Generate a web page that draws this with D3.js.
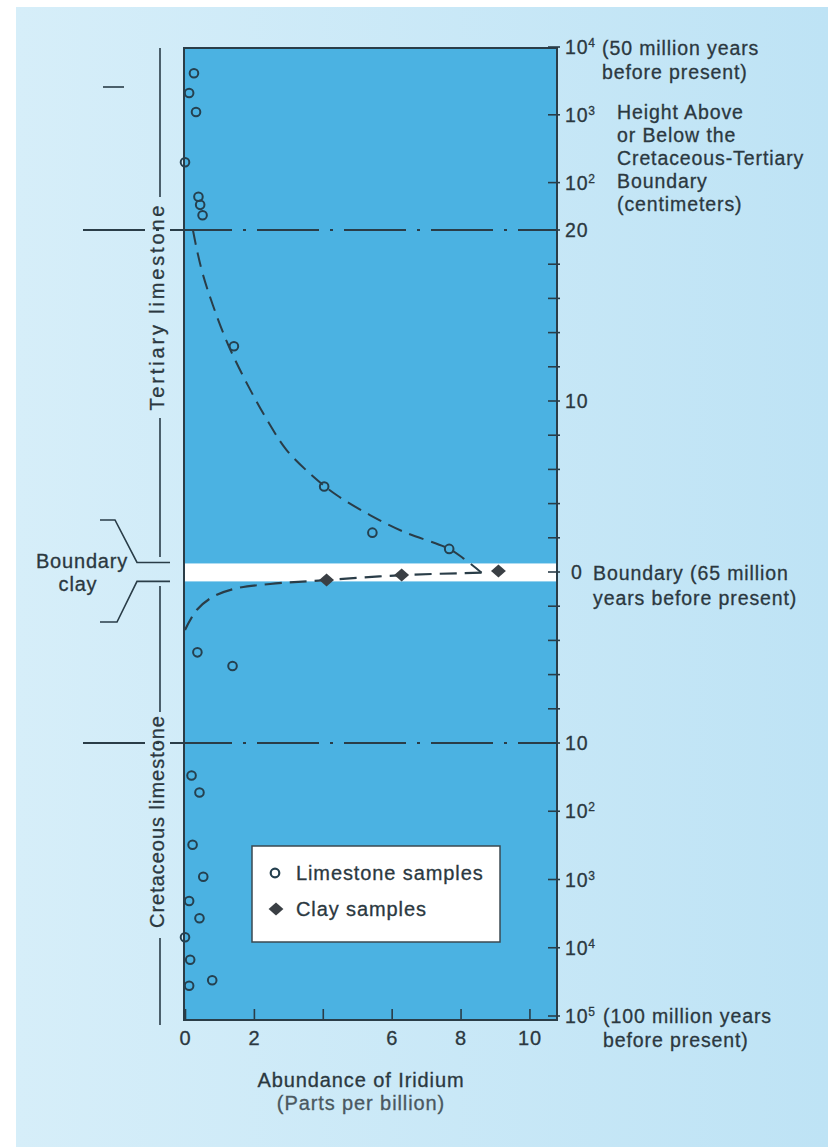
<!DOCTYPE html>
<html>
<head>
<meta charset="utf-8">
<script src="https://cdn.jsdelivr.net/npm/d3@7/dist/d3.min.js"></script>
<style>
  html, body { margin: 0; padding: 0; background: #ffffff; }
  svg { display: block; }
  text { font-family: "Liberation Sans", Arial, Helvetica, sans-serif; fill: #2b3840; stroke: #2b3840; stroke-width: 0.3px; }
</style>
</head>
<body>
<svg id="chart" width="839" height="1147"></svg>
<script>
// Iridium abundance (parts per billion) versus height above (+) or below (-)
// the Cretaceous-Tertiary boundary (centimeters).
const limestoneIridium = [0.26, 0.12, 0.32, 0.0, 0.39, 0.44, 0.51, 1.42, 4.04, 5.44, 7.67,
                          0.36, 1.38, 0.19, 0.42, 0.22, 0.53, 0.12, 0.42, 0.0, 0.15, 0.12, 0.79];
const limestoneHeight  = [4100, 2100, 1100, 200, 62, 47, 33, 13.2, 5.0, 2.3, 1.35,
                          -4.7, -5.5, -30, -53, -310, -910, -2070, -3700, -7000, -15000, -36000, -30000];

const clayIridium = [4.11, 6.29, 9.10];
const clayHeight  = [-0.47, -0.18, 0.06];

// Fitted profile: falling branch above the boundary, then the branch below it
const profileAboveIridium = [0.23, 0.35, 0.52, 0.81, 1.25, 1.83, 2.47, 2.95, 3.73, 4.40, 5.37, 6.34, 7.67, 8.08, 8.61];
const profileAboveHeight  = [20, 18.8, 17.4, 15.6, 13.3, 10.9, 8.6, 7.13, 5.57, 4.5, 3.33, 2.36, 1.35, 0.80, -0.04];
const profileBelowIridium = [8.61, 6.33, 4.11, 2.47, 1.50, 0.82, 0.34, 0.0];
const profileBelowHeight  = [-0.04, -0.18, -0.47, -0.70, -0.95, -1.44, -2.22, -3.39];

// Boundary clay layer (cm)
const clayLayer = [0.5, -0.55];

// Axis ticks
const xTickValues = [0, 2, 4, 6, 8, 10];
const xTickLabels = ["0", "2", "", "6", "8", "10"];
const heightTickValues = [1e4, 1e3, 1e2, 20, 18, 16, 14, 12, 10, 8, 6, 4, 2, 0,
                          -2, -4, -6, -8, -10, -1e2, -1e3, -1e4, -1e5];
const heightLabelValues = [1e4, 1e3, 1e2, 20, 10, 0, -10, -1e2, -1e3, -1e4, -1e5];
const heightLabelBase   = ["10", "10", "10", "20", "10", "0", "10", "10", "10", "10", "10"];
const heightLabelExp    = ["4", "3", "2", "", "", "", "", "2", "3", "4", "5"];

const svg = d3.select("#chart");
const W = 839, H = 1147;

// Panel background
const defs = svg.append("defs");
const grad = defs.append("linearGradient").attr("id", "panelGrad")
  .attr("x1", "0%").attr("x2", "100%").attr("y1", "0%").attr("y2", "0%");
grad.append("stop").attr("offset", "0%").attr("stop-color", "#d6eef9");
grad.append("stop").attr("offset", "100%").attr("stop-color", "#bee3f5");
svg.append("rect").attr("x", 16).attr("y", 7).attr("width", 812).attr("height", H - 7)
  .attr("fill", "url(#panelGrad)");

// Scales
const x = d3.scaleLinear().domain([0, 10.8]).range([185, 557]);
const yUpperLog = d3.scaleLog().domain([20, 1e4]).range([230, 47]);
const yLinear = d3.scaleLinear().domain([-10, 20]).range([743, 230]);
const yLowerLog = d3.scaleLog().domain([10, 1e5]).range([743, 1016]);
function y(h) {
  if (h > 20) return yUpperLog(h);
  if (h < -10) return yLowerLog(-h);
  return yLinear(h);
}

const plotLeft = 184, plotRight = 557, plotTop = 48, plotBottom = 1020;
const ink = "#2a3d48";

// Plot area
svg.append("rect").attr("x", plotLeft).attr("y", plotTop)
  .attr("width", plotRight - plotLeft).attr("height", plotBottom - plotTop)
  .attr("fill", "#4bb2e2");

// Boundary clay band
svg.append("rect").attr("x", plotLeft).attr("y", y(clayLayer[0]))
  .attr("width", plotRight - plotLeft).attr("height", y(clayLayer[1]) - y(clayLayer[0]))
  .attr("fill", "#ffffff");

svg.append("rect").attr("x", plotLeft).attr("y", plotTop)
  .attr("width", plotRight - plotLeft).attr("height", plotBottom - plotTop)
  .attr("fill", "none").attr("stroke", ink).attr("stroke-width", 2);

// Dash-dot limits of the linear section
[20, -10].forEach(h => {
  svg.append("line").attr("x1", 83).attr("x2", plotRight)
    .attr("y1", y(h)).attr("y2", y(h))
    .attr("stroke", ink).attr("stroke-width", 1.8)
    .attr("stroke-dasharray", "62 11 3 11");
});

// Bottom axis (ticks point inward)
const xAxis = d3.axisBottom(x)
  .tickValues(xTickValues)
  .tickFormat((d, i) => xTickLabels[i])
  .tickSizeInner(-11).tickSizeOuter(0).tickPadding(11);
const gx = svg.append("g").attr("transform", `translate(0,${plotBottom})`).call(xAxis);
gx.select(".domain").remove();
gx.selectAll("line").attr("stroke", ink).attr("stroke-width", 1.6);
gx.selectAll("text").attr("font-size", 20).attr("letter-spacing", "0.8px")
  .attr("fill", "#2b3840").attr("font-family", "Liberation Sans, Arial, sans-serif");

// Right axis ticks
svg.append("g").selectAll("line").data(heightTickValues).join("line")
  .attr("x1", plotRight - 9).attr("x2", plotRight + 3)
  .attr("y1", d => y(d)).attr("y2", d => y(d))
  .attr("stroke", ink).attr("stroke-width", 1.6);

// Right axis labels with exponents
const labelG = svg.append("g");
heightLabelValues.forEach((v, i) => {
  const t = labelG.append("text")
    .attr("x", v === 0 ? 571 : 565)
    .attr("y", y(v) + 7)
    .attr("font-size", 19.5).attr("letter-spacing", "0.8px");
  t.append("tspan").text(heightLabelBase[i]);
  if (heightLabelExp[i]) {
    t.append("tspan").attr("font-size", 12).attr("dy", -7).text(heightLabelExp[i]);
  }
});

// Notes beside the axis
function note(lines, xPos, yStart, step, size) {
  const t = svg.append("text").attr("font-size", size || 19.5).attr("letter-spacing", "0.9px");
  lines.forEach((s, i) => t.append("tspan").attr("x", xPos).attr("y", yStart + i * step).text(s));
  return t;
}
note(["(50 million years", "before present)"], 602, y(1e4) + 8, 23.5);
note(["Height Above", "or Below the", "Cretaceous-Tertiary", "Boundary", "(centimeters)"], 617, 119, 23);
note(["Boundary (65 million", "years before present)"], 593, y(0) + 8, 24.5);
note(["(100 million years", "before present)"], 603, y(-1e5) + 7, 24);

// x-axis title
svg.append("text").attr("x", 361).attr("y", 1087).attr("text-anchor", "middle")
  .attr("font-size", 20).attr("letter-spacing", "0.9px").text("Abundance of Iridium");
svg.append("text").attr("x", 361).attr("y", 1110).attr("text-anchor", "middle")
  .attr("font-size", 20).attr("letter-spacing", "0.9px")
  .style("fill", "#4a5860").style("stroke", "#4a5860")
  .text("(Parts per billion)");

// Left-hand stratigraphy labels
const leftLines = [[48, 197], [418, 557], [586, 712], [938, 1025]];
leftLines.forEach(([a, b]) => {
  svg.append("line").attr("x1", 160).attr("x2", 160).attr("y1", a).attr("y2", b)
    .attr("stroke", ink).attr("stroke-width", 1.6);
});
svg.append("line").attr("x1", 103).attr("x2", 124).attr("y1", 87).attr("y2", 87)
  .attr("stroke", ink).attr("stroke-width", 1.6);

svg.append("text").attr("transform", "translate(164,308) rotate(-90)")
  .attr("text-anchor", "middle").attr("font-size", 20)
  .attr("textLength", 205).attr("lengthAdjust", "spacing")
  .text("Tertiary limestone");
svg.append("text").attr("transform", "translate(164,822) rotate(-90)")
  .attr("text-anchor", "middle").attr("font-size", 20)
  .attr("textLength", 212).attr("lengthAdjust", "spacing")
  .text("Cretaceous limestone");

// Boundary clay bracket
svg.append("path").attr("d", `M100,520 L115,520 L137,${y(clayLayer[0]) - 1} L170,${y(clayLayer[0]) - 1}`)
  .attr("fill", "none").attr("stroke", ink).attr("stroke-width", 1.6);
svg.append("path").attr("d", `M170,${y(clayLayer[1])} L137,${y(clayLayer[1])} L117,622 L100,622`)
  .attr("fill", "none").attr("stroke", ink).attr("stroke-width", 1.6);
svg.append("text").attr("x", 82).attr("y", 568).attr("text-anchor", "middle")
  .attr("font-size", 20).attr("letter-spacing", "0.8px").text("Boundary");
svg.append("text").attr("x", 78).attr("y", 591).attr("text-anchor", "middle")
  .attr("font-size", 20).attr("letter-spacing", "0.8px").text("clay");

// Fitted profile
const line = d3.line().x(d => x(d[0])).y(d => y(d[1])).curve(d3.curveCatmullRom.alpha(0.5));
const above = profileAboveIridium.map((v, i) => [v, profileAboveHeight[i]]);
const below = profileBelowIridium.map((v, i) => [v, profileBelowHeight[i]]);
svg.append("path").attr("d", line(above)).attr("fill", "none")
  .attr("stroke", ink).attr("stroke-width", 2).attr("stroke-dasharray", "15 8");
svg.append("path").attr("d", line(below)).attr("fill", "none")
  .attr("stroke", ink).attr("stroke-width", 2.2).attr("stroke-dasharray", "17 8");

// Samples
const diamond = d3.symbol().type(d3.symbolSquare).size(110);
svg.append("g").selectAll("circle").data(limestoneIridium).join("circle")
  .attr("cx", d => x(d)).attr("cy", (d, i) => y(limestoneHeight[i]))
  .attr("r", 4.3).attr("fill", "none").attr("stroke", "#25404f").attr("stroke-width", 2);
svg.append("g").selectAll("path").data(clayIridium).join("path")
  .attr("d", diamond)
  .attr("transform", (d, i) => `translate(${x(d)},${y(clayHeight[i])}) scale(1,0.88) rotate(45)`)
  .attr("fill", "#3a3f44");

// Legend
const lg = svg.append("g");
lg.append("rect").attr("x", 252).attr("y", 846).attr("width", 248).attr("height", 96)
  .attr("fill", "#ffffff").attr("stroke", "#3b4a52").attr("stroke-width", 1.5);
lg.append("circle").attr("cx", 275).attr("cy", 873).attr("r", 4.3)
  .attr("fill", "none").attr("stroke", "#25404f").attr("stroke-width", 2.2);
lg.append("text").attr("x", 296).attr("y", 880).attr("font-size", 20)
  .attr("letter-spacing", "0.9px").text("Limestone samples");
lg.append("path").attr("d", diamond)
  .attr("transform", "translate(276,909) scale(1,0.88) rotate(45)").attr("fill", "#3a3f44");
lg.append("text").attr("x", 296).attr("y", 916).attr("font-size", 20)
  .attr("letter-spacing", "0.9px").text("Clay samples");
</script>
</body>
</html>
